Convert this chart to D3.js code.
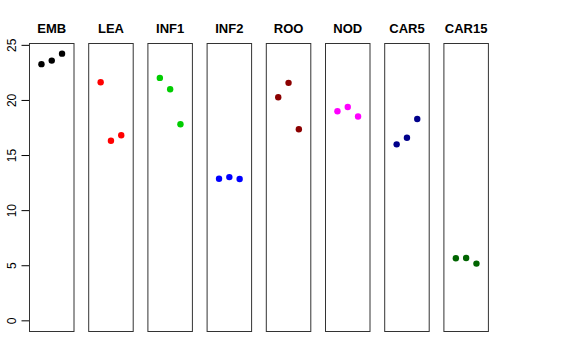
<!DOCTYPE html>
<html>
<head>
<meta charset="utf-8">
<script src="https://cdn.jsdelivr.net/npm/d3@7"></script>
<style>
  body { margin: 0; background: #fff; }
  svg { display: block; font-family: "Liberation Sans", Arial, sans-serif; }
</style>
</head>
<body>
<svg id="chart" width="576" height="360"></svg>
<script>
// tissues, one panel each
var tissues = ["EMB", "LEA", "INF1", "INF2", "ROO", "NOD", "CAR5", "CAR15"];
var colors = ["#000000", "#FF0000", "#00CD00", "#0000FF", "#8B0000", "#FF00FF", "#00008B", "#006400"];

// three replicates per tissue
var EMB = [23.25, 23.57, 24.2];
var LEA = [21.6, 16.3, 16.8];
var INF1 = [22.0, 20.97, 17.8];
var INF2 = [12.85, 13.0, 12.82];
var ROO = [20.25, 21.55, 17.34];
var NOD = [18.97, 19.36, 18.5];
var CAR5 = [15.97, 16.57, 18.27];
var CAR15 = [5.64, 5.66, 5.15];

var values = [EMB, LEA, INF1, INF2, ROO, NOD, CAR5, CAR15];
var yTicks = [0, 5, 10, 15, 20, 25];

var svg = d3.select("#chart");

// (don't call it "top", that's window.top)
var plotTop = 43, plotBottom = 331;
var panelLeft = 29, panelW = 44.5, panelStep = 59.2;

// R-style 4% padding on 0..max
var ymax = d3.max(values, v => d3.max(v));
var pad = ymax * 0.04;
var y = d3.scaleLinear().domain([-pad, ymax + pad]).range([plotBottom, plotTop]);

// y axis on the first panel only
var yAxis = svg.append("g")
  .attr("transform", "translate(" + (panelLeft + 0.5) + ",0)")
  .call(d3.axisLeft(y).tickValues(yTicks).tickSize(8).tickPadding(0));

yAxis.select(".domain")
  .attr("d", "M0," + y(0) + "V" + y(25))
  .attr("stroke", "#000");
yAxis.selectAll(".tick line").attr("stroke", "#000");
yAxis.selectAll(".tick text")
  .attr("x", null).attr("dy", null)
  .attr("transform", "translate(-14,0) rotate(-90)")
  .attr("text-anchor", "middle")
  .attr("fill", "#000")
  .style("font-size", "12px")
  .style("font-family", "Liberation Sans, Arial, sans-serif");

var panels = svg.selectAll("g.panel")
  .data(tissues)
  .enter()
  .append("g")
  .attr("class", "panel")
  .attr("transform", (d, i) => "translate(" + (panelLeft + i * panelStep) + ",0)");

panels.append("rect")
  .attr("x", 0.5)
  .attr("y", plotTop + 0.5)
  .attr("width", panelW)
  .attr("height", plotBottom - plotTop)
  .attr("fill", "none")
  .attr("stroke", "#333")
  .attr("stroke-width", 1);

panels.append("text")
  .attr("x", panelW / 2 + 0.5)
  .attr("y", 33)
  .attr("text-anchor", "middle")
  .style("font-weight", "bold")
  .style("font-size", "13px")
  .text(d => d);

var x = d3.scaleLinear().domain([-0.16, 4.16]).range([0.5, panelW + 0.5]);

panels.each(function(d, i) {
  d3.select(this).selectAll("circle")
    .data(values[i])
    .enter()
    .append("circle")
    .attr("cx", (v, j) => x(j + 1))
    .attr("cy", v => y(v))
    .attr("r", 3.2)
    .attr("fill", colors[i]);
});
</script>
</body>
</html>
